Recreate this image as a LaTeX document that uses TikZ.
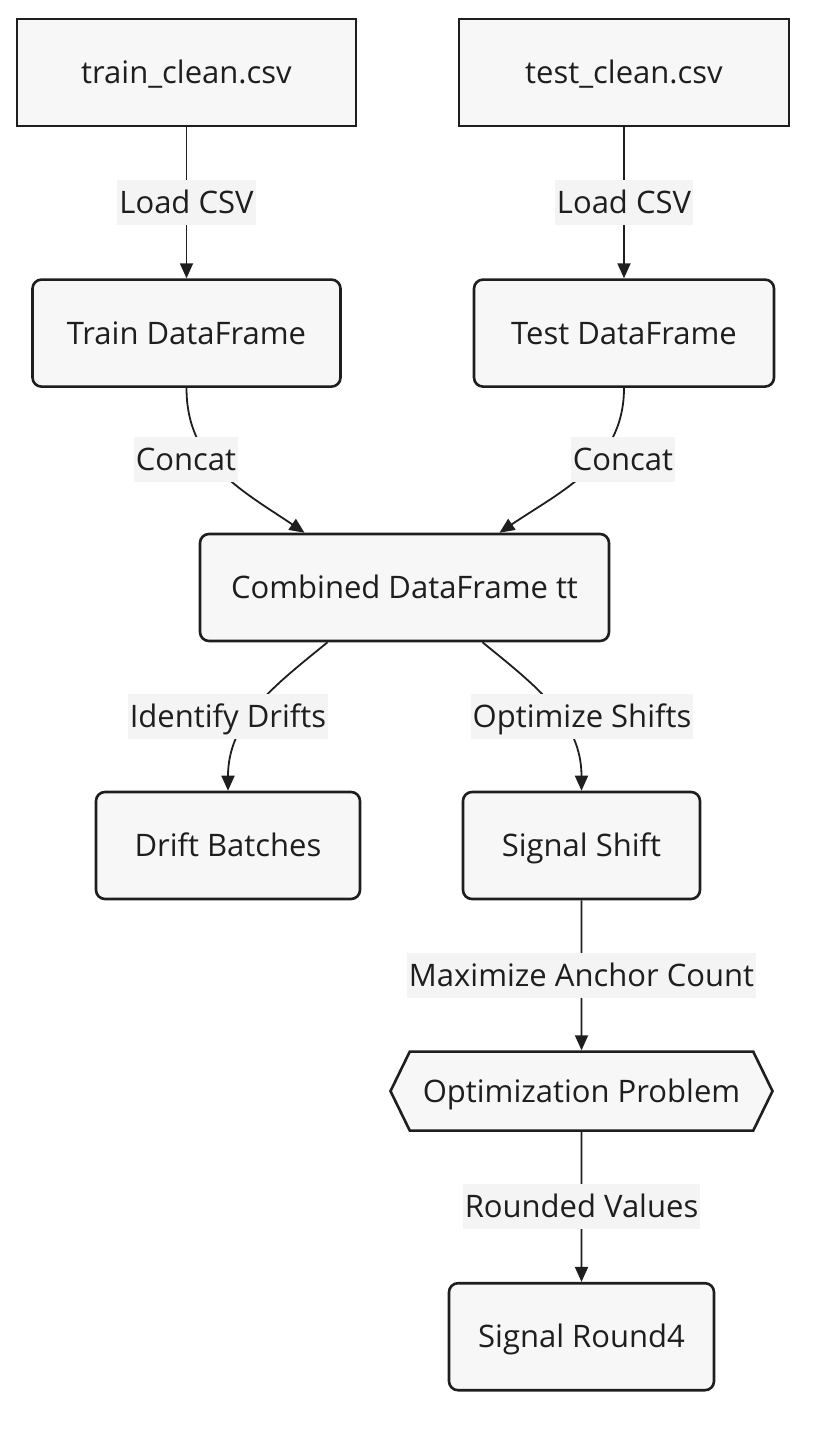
\documentclass[tikz,border=0pt]{standalone}
\usepackage{fontspec}
\setmainfont{Open Sans}
\usetikzlibrary{arrows.meta}
\usetikzlibrary{positioning}
\usetikzlibrary{shapes.symbols}

\definecolor{ink}{HTML}{1E1E1E}
\definecolor{boxfill}{HTML}{F7F7F7}
\definecolor{lblfill}{HTML}{F4F4F4}

\begin{document}
\begin{tikzpicture}[x=1pt, y=-1pt, >={Triangle[length=15pt, width=13pt]},
    font=\fontsize{31}{36}\selectfont, text=ink,
    file/.style={draw=ink, line width=2.6pt, fill=boxfill,
      minimum height=107pt, inner sep=0pt, text height=25.5pt, text depth=3.5pt},
    frame/.style={file, rounded corners=9pt},
    hexbox/.style={file, shape=signal, signal to=west and east,
      signal pointer angle=128, minimum height=79pt},
    flow/.style={->, draw=ink, line width=1.8pt},
    lbl/.style={fill=lblfill, inner xsep=2pt, inner ysep=8pt,
      text height=25.5pt, text depth=3.5pt}]
      \useasboundingbox (0,0) rectangle (824,1430);

      \node[file, minimum width=339pt] (train-csv) at (186.5,72.5)
           {train\_clean.csv};
      \node[file, minimum width=330pt] (test-csv) at (624,72.5)
           {test\_clean.csv};
      \node[frame, minimum width=308pt, below=151pt of train-csv] (train-df)
           {Train DataFrame};
      \node[frame, minimum width=300pt, below=151pt of test-csv] (test-df)
           {Test DataFrame};

      \node[frame, minimum width=409pt] (combined) at (404.5,587.5)
           {Combined DataFrame tt};

      \node[frame, minimum width=264pt] (drift) at (228,845.5)
           {Drift Batches};
      \node[frame, minimum width=237pt] (shift) at (581.5,845.5)
           {Signal Shift};
      \node[hexbox, minimum width=382pt, below=150pt of shift] (optim)
           {Optimization Problem};
      \node[frame, minimum width=265pt, below=150pt of optim] (round4)
           {Signal Round4};

      \draw[flow] (train-csv) -- node[lbl] {Load CSV} (train-df);
      \draw[flow] (test-csv) -- node[lbl] {Load CSV} (test-df);
      \draw[flow] (train-df.south) .. controls +(0,75) and +(-62,-42)
           .. ([xshift=-100pt]combined.north);
      \draw[flow] (test-df.south) .. controls +(0,75) and +(62,-42)
           .. ([xshift=95pt]combined.north);
      \draw[flow] ([xshift=-77pt]combined.south) .. controls +(-54,44)
           and +(0,-70) .. (drift.north);
      \draw[flow] ([xshift=78pt]combined.south) .. controls +(54,44)
           and +(0,-70) .. (shift.north);
      \draw[flow] (shift) -- node[lbl] {Maximize Anchor Count} (optim);
      \draw[flow] (optim) -- node[lbl] {Rounded Values} (round4);

      % labels of the bent edges
      \node[lbl] (concat-train) at (186,459.5) {Concat};
      \node[lbl] (concat-test) at (623,459.5) {Concat};
      \node[lbl] (identify) at (228,716.5) {Identify Drifts};
      \node[lbl] (optimize) at (582,716.5) {Optimize Shifts};
    \end{tikzpicture}
\end{document}
